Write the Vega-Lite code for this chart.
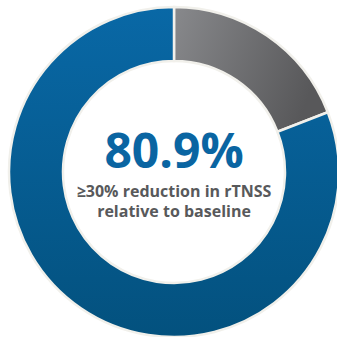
{
  "$schema": "https://vega.github.io/schema/vega-lite/v6.json",
  "width": 348,
  "height": 344,
  "autosize": "none",
  "padding": 0,
  "background": "white",
  "config": {"view": {"stroke": null}},
  "layer": [
    {
      "data": {"values": [
        {"category": "Other", "value": 19.1, "rank": 1},
        {"category": "≥30% reduction in rTNSS", "value": 80.9, "rank": 2}
      ]},
      "mark": {"type": "arc", "outerRadius": 165, "innerRadius": 111, "stroke": "#f1f0eb", "strokeWidth": 2.5},
      "encoding": {
        "theta": {"field": "value", "type": "quantitative", "stack": true},
        "order": {"field": "rank", "type": "quantitative", "sort": "ascending"},
        "fill": {
          "condition": {
            "test": "datum.category === 'Other'",
            "value": {"gradient": "linear", "x1": 0, "y1": 0, "x2": 1, "y2": 0.3,
              "stops": [{"offset": 0, "color": "#88898c"}, {"offset": 1, "color": "#58585a"}]}
          },
          "value": {"gradient": "linear", "x1": 0, "y1": 0, "x2": 0, "y2": 1,
            "stops": [{"offset": 0, "color": "#0968a6"}, {"offset": 1, "color": "#03517e"}]}
        }
      }
    },
    {
      "data": {"values": [{"label": "80.9%"}]},
      "mark": {"type": "text", "font": "Open Sans", "fontWeight": "bold", "fontSize": 48, "color": "#0a65a2", "baseline": "alphabetic", "align": "center", "dy": -4},
      "encoding": {"text": {"field": "label"}}
    },
    {
      "data": {"values": [{"label": "≥30% reduction in rTNSS"}]},
      "mark": {"type": "text", "font": "Open Sans", "fontWeight": "bold", "fontSize": 16, "color": "#58595b", "baseline": "alphabetic", "align": "center", "dy": 25},
      "encoding": {"text": {"field": "label"}}
    },
    {
      "data": {"values": [{"label": "relative to baseline"}]},
      "mark": {"type": "text", "font": "Open Sans", "fontWeight": "bold", "fontSize": 16, "color": "#58595b", "baseline": "alphabetic", "align": "center", "dy": 45},
      "encoding": {"text": {"field": "label"}}
    }
  ]
}
